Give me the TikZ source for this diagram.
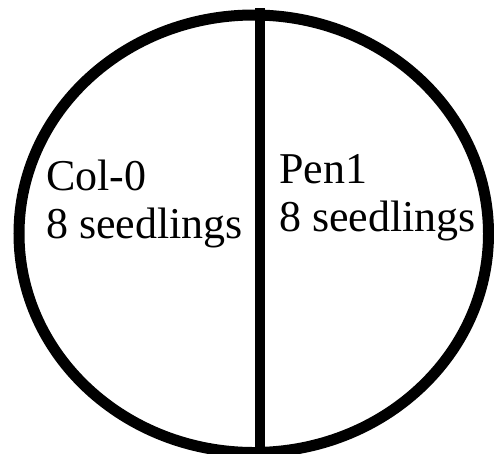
\documentclass[tikz,border=0pt]{standalone}
\usepackage{fontspec}
\setmainfont{Liberation Serif}
\usepackage{tikz}

\begin{document}
\begin{tikzpicture}[x=1pt,y=-1pt]

% Stili
\tikzset{
  lab/.style={anchor=base west, inner sep=0pt, font=\fontsize{44}{48}\selectfont}
}

\useasboundingbox (0,0) rectangle (494,453);

% Piastra
\draw[black, line width=11pt] (253.75,233.75) ellipse [x radius=234.75pt, y radius=218.75pt];

% Divisione
\coordinate (top) at (260,8);
\coordinate (bottom) at (260,453);
\draw[black, line width=10pt] (top) -- (bottom);

% Etichette
\node[lab] (colName) at (46,190) {Col-0};
\node[lab] (colCount) at (46,238) {8 seedlings};
\node[lab] (penName) at (279,183) {Pen1};
\node[lab] (penCount) at (279,231.5) {8 seedlings};
\end{tikzpicture}
\end{document}
